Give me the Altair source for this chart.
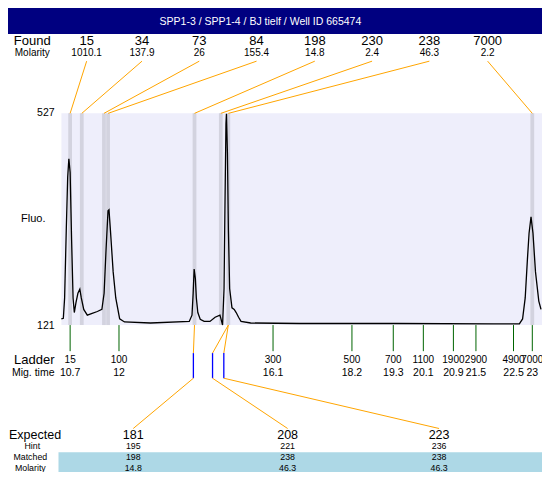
import altair as alt
import pandas as pd

# ---------------- data ----------------
title_text = "SPP1-3 / SPP1-4 / BJ tielf / Well ID 665474"

found_sizes = ["15", "34", "73", "84", "198", "230", "238", "7000"]
found_molarity = ["1010.1", "137.9", "26", "155.4", "14.8", "2.4", "46.3", "2.2"]
found_times = [10.70, 11.01, 11.60, 11.71, 14.01, 14.71, 14.91, 23.00]

ladder_sizes = ["15", "100", "300", "500", "700", "1100", "1900", "2900", "4900", "7000"]
ladder_times = [10.7, 12, 16.1, 18.2, 19.3, 20.1, 20.9, 21.5, 22.5, 23]

expected_sizes = ["181", "208", "223"]
hint_sizes = ["195", "221", "236"]
matched_sizes = ["198", "238", "238"]
matched_molarity = ["14.8", "46.3", "46.3"]
expected_times = [13.98, 14.49, 14.79]
matched_times = [14.01, 14.91, 14.91]

trace_time = [10.467, 10.519, 10.553, 10.597, 10.635, 10.666, 10.700, 10.739, 10.778, 10.811,
              10.855, 10.907, 10.958, 10.997, 11.062, 11.157, 11.268, 11.424, 11.545, 11.604,
              11.656, 11.708, 11.734, 11.772, 11.845, 11.914, 12.018, 12.147, 12.837, 13.870,
              13.943, 13.974, 14.000, 14.033, 14.059, 14.098, 14.162, 14.266, 14.421, 14.558,
              14.687, 14.718, 14.757, 14.796, 14.822, 14.847, 14.860, 14.886, 14.912, 14.945,
              15.007, 15.067, 15.119, 15.183, 15.248, 15.506, 16.798, 19.382, 21.966, 22.656,
              22.741, 22.811, 22.870, 22.914, 22.966, 23.018, 23.085, 23.173, 23.232]
trace_fluo = [132.7, 134, 173, 303, 405, 440, 414, 284, 173, 145,
              164, 182, 190, 173, 151, 140, 143, 147, 151, 182,
              266, 340, 342, 303, 223, 173, 133, 127, 125, 128,
              140, 182, 228.5, 210, 173, 145, 132, 128, 128, 136,
              140, 132, 121, 191, 358, 507, 526, 451, 303, 191,
              154, 151, 145, 136, 128, 125, 124, 124, 123.4, 123.4,
              132.7, 173, 247, 297, 328.6, 297, 223, 167, 151]

fluo_min, fluo_max = 121, 527

# ---------------- layout ----------------
W, H = 534, 464
SX, SY = W / 550, H / 480
FONT = "Liberation Sans"


def px_t(px):
    return 10.7 + (px - 64) / 38.7


def Y(py):
    return py * SY


def X(px):
    return px * SX


T0, T1 = px_t(0), px_t(550)
T_PLOT = px_t(55)
BAND = 0.05

found_slots = [px_t(p) for p in (81, 138, 197, 256, 316, 375, 434, 494)]
expected_slots = [px_t(p) for p in (129, 288, 444)]

xs = alt.Scale(domain=[T0, T1], nice=False, zero=False)
ys = alt.Scale(domain=[fluo_min, fluo_max], range=[Y(328), Y(109)], nice=False, zero=False)

found_df = pd.DataFrame({"size": found_sizes, "mol": found_molarity,
                         "t": found_times, "slot": found_slots})
found_df["lo"] = found_df["t"] - BAND
found_df["hi"] = found_df["t"] + BAND
found_df["vlo"] = fluo_min
found_df["vhi"] = fluo_max

ladder_df = pd.DataFrame({"size": ladder_sizes, "t": ladder_times,
                          "tl": [str(v) for v in ladder_times]})
exp_df = pd.DataFrame({"exp": expected_sizes, "hint": hint_sizes, "match": matched_sizes,
                       "mol": matched_molarity, "te": expected_times,
                       "tm": matched_times, "slot": expected_slots})
trace_df = pd.DataFrame({"t": trace_time, "v": trace_fluo})
plot_bg = pd.DataFrame({"a": [T_PLOT], "b": [T1], "lo": [fluo_min], "hi": [fluo_max]})
one = pd.DataFrame({"a": [0]})

ORANGE = "#FFA500"

layers = []

# title bar
layers.append(alt.Chart(one).mark_rect(color="#000080").encode(
    x=alt.value(0), x2=alt.value(W), y=alt.value(0), y2=alt.value(Y(27))))
layers.append(alt.Chart(one).mark_text(font=FONT, fontSize=10.5, color="white").encode(
    x=alt.value(X(260)), y=alt.value(Y(14)), text=alt.value(title_text)))

# plot background & peak bands
layers.append(alt.Chart(plot_bg).mark_rect(color="#EEEEFB").encode(
    x=alt.X("a:Q", scale=xs, axis=None), x2="b:Q",
    y=alt.Y("lo:Q", scale=ys, axis=None), y2="hi:Q"))
layers.append(alt.Chart(found_df).mark_rect(color="#D3D3DF").encode(
    x=alt.X("lo:Q", scale=xs, axis=None), x2="hi:Q",
    y=alt.Y("vlo:Q", scale=ys, axis=None), y2="vhi:Q"))

# trace
layers.append(alt.Chart(trace_df).mark_line(color="black", strokeWidth=1.3, clip=True).encode(
    x=alt.X("t:Q", scale=xs, axis=None), y=alt.Y("v:Q", scale=ys, axis=None), order="t:Q"))

# found header
layers.append(alt.Chart(found_df).mark_rule(color=ORANGE, strokeWidth=1).encode(
    x=alt.X("slot:Q", scale=xs, axis=None), x2="t:Q",
    y=alt.value(Y(55)), y2=alt.value(Y(109))))
layers.append(alt.Chart(found_df).mark_text(font=FONT, fontSize=13).encode(
    x=alt.X("slot:Q", scale=xs, axis=None), y=alt.value(Y(34)), text="size:N"))
layers.append(alt.Chart(found_df).mark_text(font=FONT, fontSize=10).encode(
    x=alt.X("slot:Q", scale=xs, axis=None), y=alt.value(Y(47)), text="mol:N"))

# ladder
layers.append(alt.Chart(ladder_df).mark_rule(color="#006400", strokeWidth=1).encode(
    x=alt.X("t:Q", scale=xs, axis=None), y=alt.value(Y(328)), y2=alt.value(Y(355))))
layers.append(alt.Chart(ladder_df).mark_text(font=FONT, fontSize=10).encode(
    x=alt.X("t:Q", scale=xs, axis=None), y=alt.value(Y(364)), text="size:N"))
layers.append(alt.Chart(ladder_df).mark_text(font=FONT, fontSize=10.5).encode(
    x=alt.X("t:Q", scale=xs, axis=None), y=alt.value(Y(378)), text="tl:N"))

# expected connectors
layers.append(alt.Chart(exp_df).mark_rule(color=ORANGE, strokeWidth=1).encode(
    x=alt.X("tm:Q", scale=xs, axis=None), x2="te:Q",
    y=alt.value(Y(328)), y2=alt.value(Y(357))))
layers.append(alt.Chart(exp_df).mark_rule(color="#0000FF", strokeWidth=1.3).encode(
    x=alt.X("te:Q", scale=xs, axis=None), y=alt.value(Y(357)), y2=alt.value(Y(383))))
layers.append(alt.Chart(exp_df).mark_rule(color=ORANGE, strokeWidth=1).encode(
    x=alt.X("te:Q", scale=xs, axis=None), x2="slot:Q",
    y=alt.value(Y(383)), y2=alt.value(Y(435))))

# table band
layers.append(alt.Chart(one).mark_rect(color="#ADD8E6").encode(
    x=alt.value(X(52)), x2=alt.value(W), y=alt.value(Y(459.5)), y2=alt.value(H)))
layers.append(alt.Chart(exp_df).mark_text(font=FONT, fontSize=12.5).encode(
    x=alt.X("slot:Q", scale=xs, axis=None), y=alt.value(Y(441.5)), text="exp:N"))
for field, yy in (("hint", 453.5), ("match", 464.5), ("mol", 475.5)):
    layers.append(alt.Chart(exp_df).mark_text(font=FONT, fontSize=8.8).encode(
        x=alt.X("slot:Q", scale=xs, axis=None), y=alt.value(Y(yy)), text=f"{field}:N"))

# left-hand labels
left_labels = [("Found", 25, 34, 13, "center"), ("Molarity", 25, 47, 10, "center"),
               ("527", 48, 109, 10.5, "right"), ("Fluo.", 26, 218, 11, "center"),
               ("121", 48, 329, 10.5, "right"), ("Ladder", 27, 364, 13, "center"),
               ("Mig. time", 26, 378, 10.5, "center"), ("Expected", 1, 441.5, 12.5, "left"),
               ("Hint", 25, 453.5, 8.8, "center"), ("Matched", 23, 464.5, 8.8, "center"),
               ("Molarity", 23, 475.5, 8.8, "center")]
for txt, lx, ly, fs, al in left_labels:
    layers.append(alt.Chart(one).mark_text(font=FONT, fontSize=fs, align=al).encode(
        x=alt.value(X(lx)), y=alt.value(Y(ly)), text=alt.value(txt)))

chart = alt.layer(*layers).properties(
    width=W, height=H, padding=0,
    autosize=alt.AutoSizeParams(type="none"),
).configure_view(strokeWidth=0)

chart.save("out.html", embed_options={"renderer": "svg", "actions": False})
